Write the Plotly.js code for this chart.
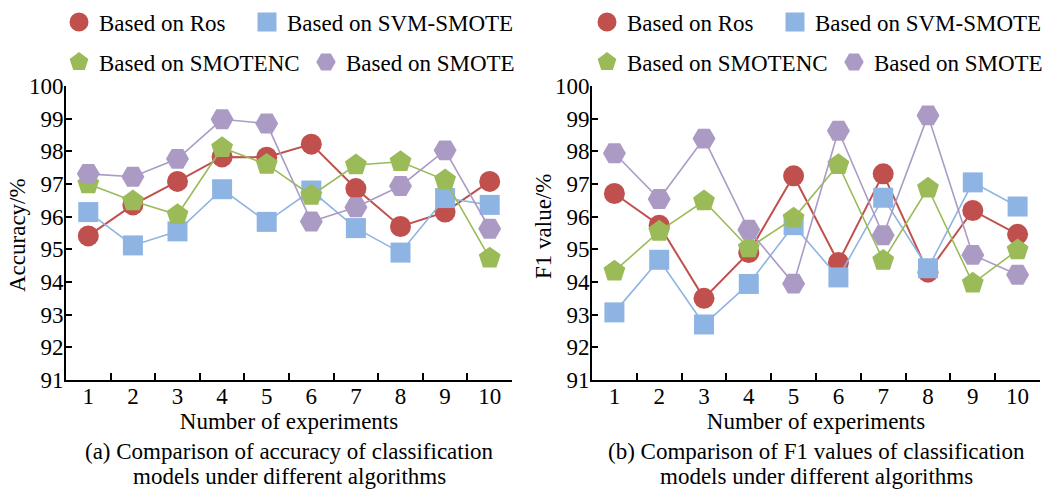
<!DOCTYPE html>
<html><head><meta charset="utf-8">
<script src="https://cdn.plot.ly/plotly-3.0.1.min.js"></script>
<style>html,body{margin:0;padding:0;background:#fff}</style>
</head><body><div id="chart" style="width:1058px;height:489px"></div>
<script>
// ---- data ----
const experiments = [1, 2, 3, 4, 5, 6, 7, 8, 9, 10];
const tickLabels = ['1', '2', '3', '4', '5', '6', '7', '8', '9', '10'];
const seriesNames = ['Based on Ros', 'Based on SVM-SMOTE', 'Based on SMOTENC', 'Based on SMOTE'];

const accRos = [95.41, 96.36, 97.08, 97.83, 97.82, 98.22, 96.86, 95.70, 96.14, 97.08];
const accSvm = [96.14, 95.12, 95.55, 96.84, 95.84, 96.80, 95.65, 94.90, 96.57, 96.36];
const accNc  = [97.00, 96.48, 96.06, 98.11, 97.60, 96.65, 97.58, 97.68, 97.12, 94.73];
const accSm  = [97.31, 97.22, 97.77, 98.98, 98.85, 95.85, 96.29, 96.94, 98.03, 95.63];

const f1Ros = [96.71, 95.74, 93.50, 94.90, 97.25, 94.60, 97.31, 94.30, 96.19, 95.46];
const f1Svm = [93.07, 94.68, 92.70, 93.94, 95.74, 94.14, 96.58, 94.42, 97.05, 96.31];
const f1Nc  = [94.33, 95.55, 96.48, 95.04, 95.95, 97.59, 94.66, 96.87, 93.96, 94.98];
const f1Sm  = [97.94, 96.54, 98.39, 95.60, 93.95, 98.63, 95.43, 99.10, 94.83, 94.22];

// ---- styles ----
const FONT = 'Liberation Serif';
const styles = [
  {color: '#C0504D', symbol: 'circle', size: 21, width: 2},
  {color: '#8DB4E2', symbol: 'square', size: 20, width: 1.6},
  {color: '#9BBB59', symbol: 'pentagon', size: 23, width: 1.6},
  {color: '#AB9BC4', symbol: 'hexagon2', size: 23, width: 1.6}
];
const boundaries = experiments.slice(0, -1).map(v => v + 0.5);
const W = 1058, H = 489;

function mk(vals, i, xa, ya) {
  const s = styles[i];
  return {
    type: 'scatter', mode: 'lines+markers', x: experiments, y: vals,
    name: seriesNames[i], xaxis: xa, yaxis: ya, showlegend: false,
    line: {color: s.color, width: s.width},
    marker: {color: s.color, symbol: s.symbol, size: s.size, line: {width: 0}}
  };
}
// legend-only entries (marker swatch without line), one legend per entry
function legendEntry(i, xa, ya, legendId) {
  const s = styles[i];
  return {
    type: 'scatter', mode: 'markers', x: [null], y: [null],
    name: seriesNames[i], xaxis: xa, yaxis: ya, legend: legendId, showlegend: true,
    marker: {color: s.color, symbol: s.symbol, size: s.size, line: {width: 3, color: s.color}}
  };
}

const traces = [
  mk(accRos, 0, 'x', 'y'), mk(accSvm, 1, 'x', 'y'), mk(accNc, 2, 'x', 'y'), mk(accSm, 3, 'x', 'y'),
  mk(f1Ros, 0, 'x2', 'y2'), mk(f1Svm, 1, 'x2', 'y2'), mk(f1Nc, 2, 'x2', 'y2'), mk(f1Sm, 3, 'x2', 'y2'),
  legendEntry(0, 'x', 'y', 'legend'), legendEntry(1, 'x', 'y', 'legend2'),
  legendEntry(2, 'x', 'y', 'legend3'), legendEntry(3, 'x', 'y', 'legend4'),
  legendEntry(0, 'x2', 'y2', 'legend5'), legendEntry(1, 'x2', 'y2', 'legend6'),
  legendEntry(2, 'x2', 'y2', 'legend7'), legendEntry(3, 'x2', 'y2', 'legend8')
];

function xAxis(l, r, anchor) {
  return {
    domain: [l / W, r / W], range: [0.5, 10.5], anchor: anchor,
    tickmode: 'array', tickvals: experiments, ticktext: tickLabels,
    ticks: '', showline: true, linecolor: '#000', linewidth: 2,
    showgrid: false, zeroline: false, fixedrange: true,
    tickfont: {family: FONT, size: 23, color: '#000'},
    ticklabelstandoff: -6,
    minor: {tickvals: boundaries, ticks: 'inside', ticklen: 7, tickwidth: 2, tickcolor: '#000', showgrid: false},
    title: {text: 'Number of experiments', font: {family: FONT, size: 23, color: '#000'}, standoff: 0}
  };
}
function yAxis(anchor, standoff) {
  return {
    domain: [1 - 380 / H, 1 - 86 / H], range: [91, 100], anchor: anchor,
    tickmode: 'linear', tick0: 91, dtick: 1,
    ticks: 'inside', ticklen: 6, tickwidth: 2, tickcolor: '#000',
    showline: true, linecolor: '#000', linewidth: 2,
    showgrid: false, zeroline: false, fixedrange: true,
    tickfont: {family: FONT, size: 23, color: '#000'},
    ticklabelstandoff: standoff
  };
}
function legendItem(markerX, rowY) {
  return {
    x: (markerX - 19) / W, y: 1 - rowY / H, xanchor: 'left', yanchor: 'middle',
    orientation: 'h', bgcolor: 'rgba(0,0,0,0)', borderwidth: 0,
    font: {family: FONT, size: 23, color: '#000'}, itemwidth: 30
  };
}

const layout = {
  width: W, height: H,
  margin: {l: 0, r: 0, t: 0, b: 0},
  paper_bgcolor: '#fff', plot_bgcolor: 'rgba(0,0,0,0)',
  font: {family: FONT, size: 23, color: '#000'},
  showlegend: true,
  xaxis: xAxis(66, 512, 'y'),
  yaxis: yAxis('x', -4),
  xaxis2: xAxis(592, 1040, 'y2'),
  yaxis2: yAxis('x2', -4),
  legend: legendItem(78, 22),
  legend2: legendItem(266, 22),
  legend3: legendItem(78, 62),
  legend4: legendItem(325, 62),
  legend5: legendItem(606, 22),
  legend6: legendItem(794, 22),
  legend7: legendItem(606, 62),
  legend8: legendItem(853, 62),
  annotations: [
    {text: 'Accuracy/%', x: 18 / W, y: 1 - 235 / H, textangle: -90},
    {text: 'F1 value/%', x: 543 / W, y: 1 - 227 / H, textangle: -90},
    {text: '(a) Comparison of accuracy of classification', x: 289 / W, y: 1 - 451 / H},
    {text: 'models under different algorithms', x: 289 / W, y: 1 - 476 / H},
    {text: '(b) Comparison of F1 values of classification', x: 816 / W, y: 1 - 451 / H},
    {text: 'models under different algorithms', x: 816 / W, y: 1 - 476 / H}
  ].map(a => Object.assign(a, {xref: 'paper', yref: 'paper', xanchor: 'center', yanchor: 'middle',
    showarrow: false, font: {family: FONT, size: 23, color: '#000'}}))
};

Plotly.newPlot('chart', traces, layout, {displayModeBar: false, staticPlot: true});
</script></body></html>
